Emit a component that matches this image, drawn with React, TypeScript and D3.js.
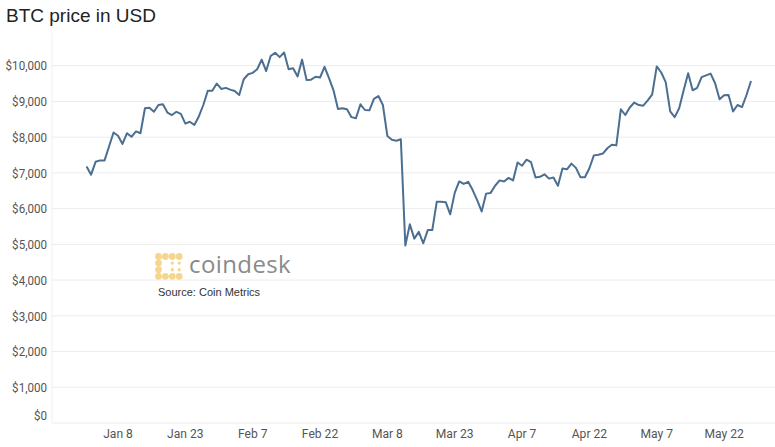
import React from "react";
import * as d3 from "d3";

const START_DATE = "2020-01-01";
const prices: number[] = [
  // Jan
  7180, 6950, 7310, 7350, 7350, 7740, 8130, 8040, 7810, 8110, 8010, 8160, 8110, 8810, 8820, 8710,
  8900, 8920, 8690, 8620, 8710, 8650, 8380, 8430, 8340, 8580, 8900, 9300, 9300, 9500, 9350,
  // Feb
  9380, 9330, 9290, 9180, 9620, 9760, 9800, 9900, 10170, 9850, 10270, 10360, 10240, 10370, 9900,
  9930, 9700, 10170, 9600, 9610, 9690, 9670, 9970, 9650, 9310, 8790, 8810, 8780, 8560,
  // Mar
  8530, 8920, 8760, 8750, 9070, 9150, 8900, 8030, 7930, 7900, 7940, 4970, 5560, 5160, 5350, 5030,
  5400, 5400, 6190, 6190, 6180, 5840, 6440, 6760, 6690, 6750, 6520, 6240, 5920, 6420, 6440,
  // Apr
  6640, 6790, 6760, 6860, 6790, 7290, 7200, 7370, 7300, 6870, 6890, 6960, 6840, 6870, 6640,
  7120, 7100, 7260, 7140, 6880, 6880, 7130, 7490, 7510, 7540, 7690, 7790, 7770, 8780, 8620,
  // May
  8830, 8970, 8900, 8880, 9030, 9200, 9980, 9810, 9540, 8720, 8560, 8810, 9310, 9790, 9310,
  9380, 9680, 9730, 9780, 9510, 9060, 9170, 9180, 8720, 8900, 8840, 9180, 9570,
];

const xTickDates = [
  "2020-01-08", "2020-01-23", "2020-02-07", "2020-02-22", "2020-03-08",
  "2020-03-23", "2020-04-07", "2020-04-22", "2020-05-07", "2020-05-22",
];
const xTickLabels = [
  "Jan 8", "Jan 23", "Feb 7", "Feb 22", "Mar 8", "Mar 23", "Apr 7", "Apr 22", "May 7", "May 22",
];
const yTicks = [0, 1000, 2000, 3000, 4000, 5000, 6000, 7000, 8000, 9000, 10000];

const title = "BTC price in USD";
const sourceText = "Source: Coin Metrics";
const brand = "coindesk";

const W = 775;
const H = 447;

export default function App() {
  const parse = d3.utcParse("%Y-%m-%d");
  const start = parse(START_DATE) as Date;
  const data = prices.map((v, i) => ({ date: d3.utcDay.offset(start, i), value: v }));

  const x = d3
    .scaleUtc()
    .domain([data[0].date, data[data.length - 1].date])
    .range([86.6, 751]);
  const y = d3.scaleLinear().domain([0, 10000]).range([423, 65.7]);

  const line = d3
    .line<{ date: Date; value: number }>()
    .x((d) => x(d.date))
    .y((d) => y(d.value));

  const fmt = (v: number) => "$" + d3.format(",")(v);

  // logo dots (4x4 grid)
  const lx = 158.5;
  const ly = 256.5;
  const spx = 6.9;
  const spy = 6.6;
  const logoColor = "#f6d68e";
  const cells: { c: number; r: number; big: boolean }[] = [];
  for (let r = 0; r < 4; r++) {
    for (let c = 0; c < 4; c++) {
      const frame = c === 0 || r === 0 || r === 3;
      if (frame) cells.push({ c, r, big: true });
      else if (c >= 2) cells.push({ c, r, big: false });
    }
  }

  return (
    <svg
      width={W}
      height={H}
      style={{ position: "absolute", left: 0, top: 0, background: "#fff" }}
    >
      <rect x={0} y={0} width={W} height={H} fill="#fff" />
      <text
        x={6}
        y={22}
        fontFamily="'Liberation Sans', Arial, sans-serif"
        fontSize={19}
        fill="#222"
      >
        {title}
      </text>

      {/* grid */}
      {yTicks.map((t) => (
        <line key={t} x1={52} x2={W} y1={y(t)} y2={y(t)} stroke="#ececec" strokeWidth={1} />
      ))}
      <line x1={52} x2={52} y1={33} y2={423} stroke="#f0f0f0" strokeWidth={1} />

      {/* y labels */}
      {yTicks.map((t) => (
        <g key={t} transform={`translate(47,${y(t) - (t === 0 ? 8 : 0)}) scale(0.86,1)`}>
          <text
            x={0}
            y={0}
            dy="0.35em"
            textAnchor="end"
            fontFamily="Roboto, 'Liberation Sans', sans-serif"
            fontSize={13.5}
            fill="#555"
          >
            {fmt(t)}
          </text>
        </g>
      ))}

      {/* x labels */}
      {xTickDates.map((d, i) => (
        <g key={d} transform={`translate(${x(parse(d) as Date)},438) scale(0.93,1)`}>
          <text
            x={0}
            y={0}
            textAnchor="middle"
            fontFamily="Roboto, 'Liberation Sans', sans-serif"
            fontSize={13}
            fill="#555"
          >
            {xTickLabels[i]}
          </text>
        </g>
      ))}

      {/* logo */}
      <g>
        {cells.map((p) => (
          <circle
            key={`${p.r}-${p.c}`}
            cx={lx + p.c * spx}
            cy={ly + p.r * spy}
            r={p.big ? 3.4 : 1.7}
            fill={logoColor}
          />
        ))}
        <text
          x={189}
          y={273}
          fontFamily="'Open Sans', sans-serif"
          fontSize={24}
          letterSpacing={0.4}
          fill="#8a8a8a"
        >
          {brand}
        </text>
        <text
          x={158}
          y={296}
          fontFamily="'Liberation Sans', Arial, sans-serif"
          fontSize={11}
          fill="#333"
        >
          {sourceText}
        </text>
      </g>

      <path d={line(data) || ""} fill="none" stroke="#4b6e91" strokeWidth={2} strokeLinejoin="round" />
    </svg>
  );
}
